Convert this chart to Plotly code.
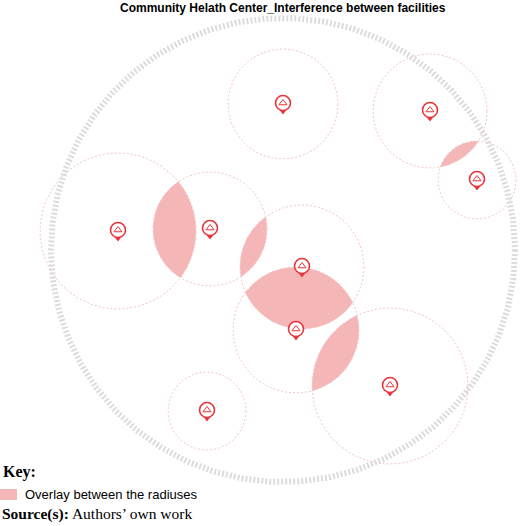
import numpy as np
import plotly.graph_objects as go

# facility centers (in picture pixel units) and service radii
fac_x = [283, 430, 477, 118, 210, 302, 296, 390, 207]
fac_y = [104, 111, 180, 231, 229, 267, 330, 386, 411]
radii = [55, 57, 39, 78, 57, 62, 63, 78, 39]
# pairs of facilities whose radii overlap
overlap_pairs = [(3, 4), (4, 5), (5, 6), (6, 7), (1, 2)]
# study area boundary
area_x, area_y, area_r = 283, 250, 232

PINK = "#f4b6b6"
RED = "#e8343a"

fig = go.Figure()

def circ(cx, cy, r, a0=0, a1=2*np.pi, n=200):
    t = np.linspace(a0, a1, n)
    return cx + r*np.cos(t), cy + r*np.sin(t)

x, y = circ(area_x, area_y, area_r, n=600)
fig.add_trace(go.Scatter(x=x, y=y, mode="lines", line=dict(color="#dcdcdc", width=6, dash="2px,2px"),
                         hoverinfo="skip", showlegend=False))

for i, j in overlap_pairs:
    ax_, ay_, ra = fac_x[i], fac_y[i], radii[i]
    bx_, by_, rb = fac_x[j], fac_y[j], radii[j]
    d = np.hypot(bx_-ax_, by_-ay_)
    phi = np.arctan2(by_-ay_, bx_-ax_)
    al = np.arccos((d*d+ra*ra-rb*rb)/(2*d*ra))
    be = np.arccos((d*d+rb*rb-ra*ra)/(2*d*rb))
    x1, y1 = circ(ax_, ay_, ra, phi-al, phi+al, 80)
    x2, y2 = circ(bx_, by_, rb, phi+np.pi-be, phi+np.pi+be, 80)
    fig.add_trace(go.Scatter(x=np.r_[x1, x2], y=np.r_[y1, y2], fill="toself", fillcolor=PINK,
                             mode="lines", line=dict(width=0), hoverinfo="skip", showlegend=False))

for cx, cy, r in zip(fac_x, fac_y, radii):
    x, y = circ(cx, cy, r, n=300)
    fig.add_trace(go.Scatter(x=x, y=y, mode="lines", line=dict(color="#f6c4c4", width=1, dash="2px,2px"),
                             hoverinfo="skip", showlegend=False))

fx = np.array(fac_x); fy = np.array(fac_y)
fig.add_trace(go.Scatter(x=fx, y=fy+7, mode="markers", marker=dict(symbol="triangle-down", size=7, color=RED),
                         hoverinfo="skip", showlegend=False))
fig.add_trace(go.Scatter(x=fx, y=fy-1, mode="markers",
                         marker=dict(symbol="circle", size=15, color="white", line=dict(color=RED, width=1.6)),
                         hoverinfo="skip", showlegend=False))
fig.add_trace(go.Scatter(x=fx, y=fy-1, mode="markers",
                         marker=dict(symbol="triangle-up-open", size=7, color=RED, line=dict(color=RED, width=1)),
                         hoverinfo="skip", showlegend=False))

fig.add_annotation(x=283, y=8, text="<b>Community Helath Center_Interference between facilities</b>",
                   showarrow=False, font=dict(family="Liberation Sans", size=12, color="black"))
fig.add_annotation(x=1, y=472, xanchor="left", text="<b>Key:</b>", showarrow=False,
                   font=dict(family="Liberation Serif", size=16, color="black"))
fig.add_shape(type="rect", x0=0, x1=17, y0=489, y1=500, fillcolor=PINK, line=dict(width=0))
fig.add_annotation(x=23, y=494, xanchor="left", text="Overlay between the radiuses", showarrow=False,
                   font=dict(family="Liberation Sans", size=13, color="black"))
fig.add_annotation(x=0, y=514, xanchor="left", text="<b>Source(s):</b> Authors’ own work", showarrow=False,
                   font=dict(family="Liberation Serif", size=15.5, color="black"))

fig.update_layout(width=520, height=526, margin=dict(l=0, r=0, t=0, b=0),
                  plot_bgcolor="white", paper_bgcolor="white",
                  xaxis=dict(range=[0, 520], visible=False, fixedrange=True),
                  yaxis=dict(range=[526, 0], visible=False, fixedrange=True))
fig.write_html("out.html", config={"displayModeBar": False},
               post_script="document.body.style.margin='0';document.body.style.overflow='hidden';")
